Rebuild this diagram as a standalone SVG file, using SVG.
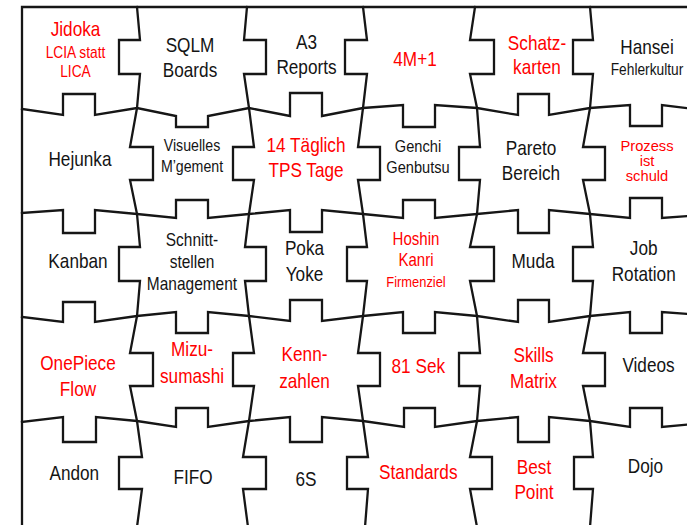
<svg xmlns="http://www.w3.org/2000/svg" width="687" height="525" viewBox="0 0 687 525">
<style>
.ln{fill:none;stroke:#161616;stroke-width:2.3;stroke-linejoin:miter;stroke-linecap:square}
text{font-family:"Liberation Sans",Arial,sans-serif;text-anchor:middle;font-size:20px;fill:#141414}
.r{fill:#ff0000}
.s15{font-size:15px}.s155{font-size:15.5px}.s16{font-size:16px}.s165{font-size:16.5px}.s17{font-size:17px}.s175{font-size:17.5px}.s18{font-size:18px}
</style>
<rect x="0" y="0" width="687" height="525" fill="#ffffff"/>
<g id="connectors">
<path class="ln" d="M22,527 L22,7 L690,7"/>
<path class="ln" d="M22,109 L63,115 L63,94 L95,94 L95,115 L137,108 L176,116 L176,127 L208,127 L208,116 L249,108 L290,116 L290,93 L322,93 L322,116 L363,108 L403,105 L403,127 L435,127 L435,105 L477,108 L518,115 L518,94 L549,94 L549,115 L590,108 L630,105 L630,126 L662,126 L662,105 L703,110"/>
<path class="ln" d="M22,213 L63,210 L63,233 L95,233 L95,210 L137,214 L176,218 L176,200 L208,200 L208,218 L249,214 L290,210 L290,232 L322,232 L322,210 L363,214 L403,218 L403,200 L435,200 L435,218 L477,214 L518,210 L518,233 L549,233 L549,210 L590,214 L630,218 L630,198 L662,198 L662,218 L703,215"/>
<path class="ln" d="M22,317 L63,322 L63,302 L95,302 L95,322 L137,316 L176,312 L176,333 L208,333 L208,312 L249,316 L290,321 L290,300 L322,300 L322,321 L363,316 L403,312 L403,333 L435,333 L435,312 L477,316 L518,322 L518,300 L549,300 L549,322 L590,316 L630,312 L630,333 L662,333 L662,312 L703,315"/>
<path class="ln" d="M22,422 L63,417 L63,442 L96,442 L96,417 L137,421 L176,427 L176,408 L208,408 L208,427 L249,421 L290,417 L290,442 L322,442 L322,417 L363,421 L404,427 L404,408 L435,408 L435,427 L477,421 L518,417 L518,442 L549,442 L549,417 L590,421 L630,427 L630,408 L662,408 L662,427 L703,423"/>
<path class="ln" d="M137,7 L140,40 L119,40 L119,74 L140,74 L137,108 L130,147 L153,147 L153,180 L130,180 L137,214 L140,247 L119,247 L119,281 L140,281 L137,316 L130,353 L153,353 L153,386 L130,386 L137,421 L142,457 L119,457 L119,489 L142,489 L137,527"/>
<path class="ln" d="M247,7 L244,40 L266,40 L266,74 L244,74 L249,108 L254,147 L233,147 L233,180 L254,180 L249,214 L245,247 L266,247 L266,281 L245,281 L249,316 L254,353 L233,353 L233,386 L254,386 L249,421 L243,457 L266,457 L266,489 L243,489 L248,527"/>
<path class="ln" d="M363,7 L367,40 L345,40 L345,74 L367,74 L363,108 L358,147 L380,147 L380,180 L358,180 L363,214 L367,247 L347,247 L347,281 L367,281 L363,316 L358,353 L380,353 L380,386 L358,386 L363,421 L368,457 L347,457 L347,489 L368,489 L365,527"/>
<path class="ln" d="M475,7 L470,40 L494,40 L494,74 L470,74 L477,108 L480,147 L459,147 L459,180 L480,180 L477,214 L470,247 L494,247 L494,281 L470,281 L477,316 L480,353 L459,353 L459,386 L480,386 L477,421 L470,457 L492,457 L492,489 L470,489 L477,527"/>
<path class="ln" d="M590,7 L593,40 L573,40 L573,74 L593,74 L590,108 L583,147 L605,147 L605,180 L583,180 L590,214 L593,247 L573,247 L573,281 L593,281 L590,316 L583,353 L605,353 L605,386 L583,386 L590,421 L593,457 L574,457 L574,489 L593,489 L590,527"/>
</g>
<g id="jidoka" transform="translate(75.5,0) scale(0.86,1)"><text class="r" y="36">Jidoka</text><text class="r s16" y="58">LCIA statt</text><text class="r s16" y="77">LICA</text></g>
<g id="sqlm" transform="translate(190,0) scale(0.86,1)"><text y="52">SQLM</text><text y="77">Boards</text></g>
<g id="a3" transform="translate(306.5,0) scale(0.86,1)"><text y="49">A3</text><text y="74">Reports</text></g>
<g id="m4" transform="translate(415,0) scale(0.86,1)"><text class="r" y="66.5">4M+1</text></g>
<g id="schatz" transform="translate(537,0) scale(0.86,1)"><text class="r" y="50">Schatz-</text><text class="r" y="74">karten</text></g>
<g id="hansei" transform="translate(647,0) scale(0.86,1)"><text y="54.5">Hansei</text><text class="s16" y="75.5">Fehlerkultur</text></g>
<g id="hejunka" transform="translate(80,0) scale(0.86,1)"><text y="166">Hejunka</text></g>
<g id="visuelles" transform="translate(192,0) scale(0.86,1)"><text class="s165" y="151">Visuelles</text><text class="s165" y="172">M’gement</text></g>
<g id="taeglich" transform="translate(306,0) scale(0.86,1)"><text class="r" y="152">14 Täglich</text><text class="r" y="177">TPS Tage</text></g>
<g id="genchi" transform="translate(418,0) scale(0.86,1)"><text class="s17" y="152">Genchi</text><text class="s17" y="173.5">Genbutsu</text></g>
<g id="pareto" transform="translate(531,0) scale(0.86,1)"><text y="155">Pareto</text><text y="180.5">Bereich</text></g>
<g id="prozess" transform="translate(647,0) scale(0.95,1)"><text class="r s155" y="151.5">Prozess</text><text class="r s155" y="166.5">ist</text><text class="r s155" y="181.5">schuld</text></g>
<g id="kanban" transform="translate(78,0) scale(0.86,1)"><text y="268">Kanban</text></g>
<g id="schnitt" transform="translate(192,0) scale(0.86,1)"><text class="s18" y="246.5">Schnitt-</text><text class="s18" y="268">stellen</text><text class="s18" y="290">Management</text></g>
<g id="poka" transform="translate(304.5,0) scale(0.86,1)"><text y="255">Poka</text><text y="281.5">Yoke</text></g>
<g id="hoshin" transform="translate(416,0) scale(0.86,1)"><text class="r s175" y="245">Hoshin</text><text class="r s175" y="266.5">Kanri</text><text class="r s15" y="287">Firmenziel</text></g>
<g id="muda" transform="translate(533,0) scale(0.86,1)"><text y="268">Muda</text></g>
<g id="job" transform="translate(643.7,0) scale(0.86,1)"><text y="255">Job</text><text y="281">Rotation</text></g>
<g id="onepiece" transform="translate(78,0) scale(0.86,1)"><text class="r" y="370">OnePiece</text><text class="r" y="396">Flow</text></g>
<g id="mizu" transform="translate(192,0) scale(0.86,1)"><text class="r" y="356.5">Mizu-</text><text class="r" y="383">sumashi</text></g>
<g id="kenn" transform="translate(304.5,0) scale(0.86,1)"><text class="r" y="361.5">Kenn-</text><text class="r" y="388">zahlen</text></g>
<g id="sek81" transform="translate(418.3,0) scale(0.86,1)"><text class="r" y="373">81 Sek</text></g>
<g id="skills" transform="translate(533.5,0) scale(0.86,1)"><text class="r" y="362.5">Skills</text><text class="r" y="388">Matrix</text></g>
<g id="videos" transform="translate(648.5,0) scale(0.86,1)"><text y="372.5">Videos</text></g>
<g id="andon" transform="translate(74.3,0) scale(0.86,1)"><text y="480.5">Andon</text></g>
<g id="fifo" transform="translate(193,0) scale(0.86,1)"><text y="484">FIFO</text></g>
<g id="s6" transform="translate(306,0) scale(0.86,1)"><text y="486.5">6S</text></g>
<g id="standards" transform="translate(418.3,0) scale(0.86,1)"><text class="r" y="479">Standards</text></g>
<g id="bestpoint" transform="translate(534,0) scale(0.86,1)"><text class="r" y="474">Best</text><text class="r" y="499">Point</text></g>
<g id="dojo" transform="translate(645.4,0) scale(0.86,1)"><text y="473.5">Dojo</text></g>
</svg>
